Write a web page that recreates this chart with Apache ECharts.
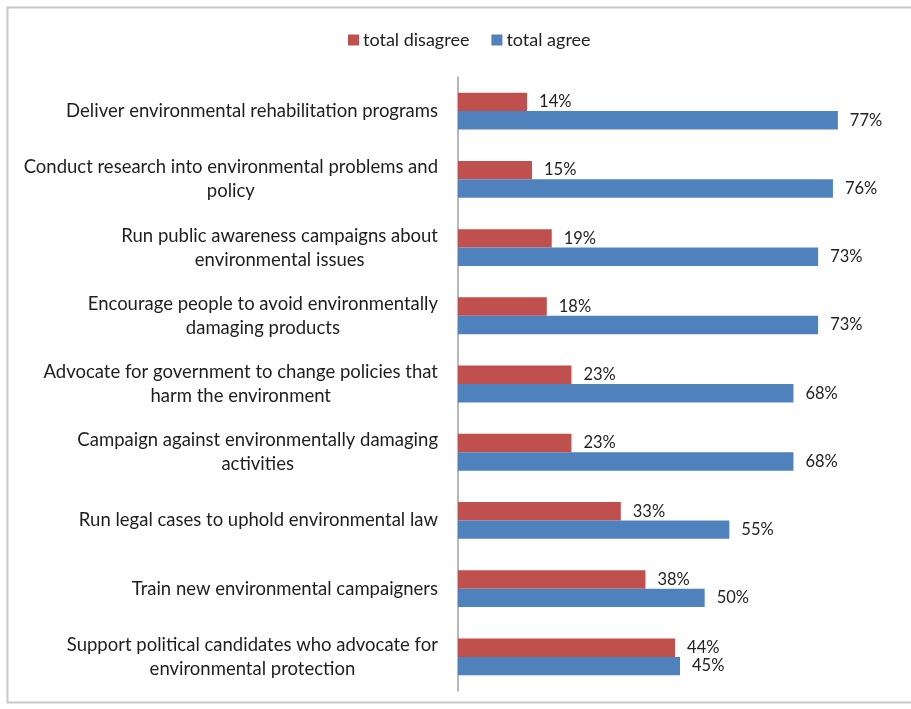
<!DOCTYPE html>
<html>
<head>
<meta charset="utf-8">
<script src="https://cdn.jsdelivr.net/npm/echarts@6/dist/echarts.min.js"></script>
<style>html,body{margin:0;padding:0;background:#fff;}#c{width:911px;height:709px;}</style>
</head>
<body>
<div id="c"></div>
<script>
const categories = [
  "Deliver environmental rehabilitation programs",
  "Conduct research into environmental problems and\npolicy",
  "Run public awareness campaigns about\nenvironmental issues",
  "Encourage people to avoid environmentally\ndamaging products",
  "Advocate for government to change policies that\nharm the environment",
  "Campaign against environmentally damaging\nactivities",
  "Run legal cases to uphold environmental law",
  "Train new environmental campaigners",
  "Support political candidates who advocate for\nenvironmental protection"
];
const totalDisagree = [14, 15, 19, 18, 23, 23, 33, 38, 44];
const totalAgree = [77, 76, 73, 73, 68, 68, 55, 50, 45];
const seriesNames = ["total disagree", "total agree"];

const FONT = "Lato";
const chart = echarts.init(document.getElementById('c'));
chart.setOption({
  animation: false,
  backgroundColor: '#fff',
  textStyle: { fontFamily: FONT },
  graphic: [{
    type: 'rect', silent: true,
    shape: { x: 7.5, y: 7.5, width: 1000, height: 695 },
    style: { fill: 'none', stroke: '#c8c8c8', lineWidth: 2 }
  }],
  legend: {
    top: 26, left: 343,
    itemWidth: 11, itemHeight: 11, itemGap: 22,
    icon: 'rect',
    textStyle: { fontFamily: FONT, fontSize: 18, color: '#222', padding: [0, 0, 0, -1] },
    data: seriesNames
  },
  grid: { left: 458, right: 9, top: 77, bottom: 18, containLabel: false },
  xAxis: {
    type: 'value', min: 0, max: 90,
    show: false, splitLine: { show: false }
  },
  yAxis: {
    type: 'category', inverse: true, data: categories,
    axisLine: { show: true, lineStyle: { color: '#a0a0a0', width: 1.5 } },
    axisTick: { show: false },
    axisLabel: {
      margin: 20, align: 'right',
      formatter: function (v) { return v.split('\n').map(function (s) { return '{c|' + s + '}'; }).join('\n'); },
      rich: { c: { fontFamily: FONT, fontSize: 18.5, color: '#1e1e1e', align: 'center', lineHeight: 24 } }
    }
  },
  series: [
    {
      name: seriesNames[0], type: 'bar', data: totalDisagree,
      barGap: '0%', barCategoryGap: '46%',
      itemStyle: { color: '#C0504D' },
      label: { show: true, position: 'right', distance: 12, formatter: '{c}%', fontFamily: FONT, fontSize: 16.5, color: '#222' }
    },
    {
      name: seriesNames[1], type: 'bar', data: totalAgree,
      barGap: '0%', barCategoryGap: '46%',
      itemStyle: { color: '#4F81BD' },
      label: { show: true, position: 'right', distance: 12, formatter: '{c}%', fontFamily: FONT, fontSize: 16.5, color: '#222' }
    }
  ]
});
</script>
</body>
</html>
